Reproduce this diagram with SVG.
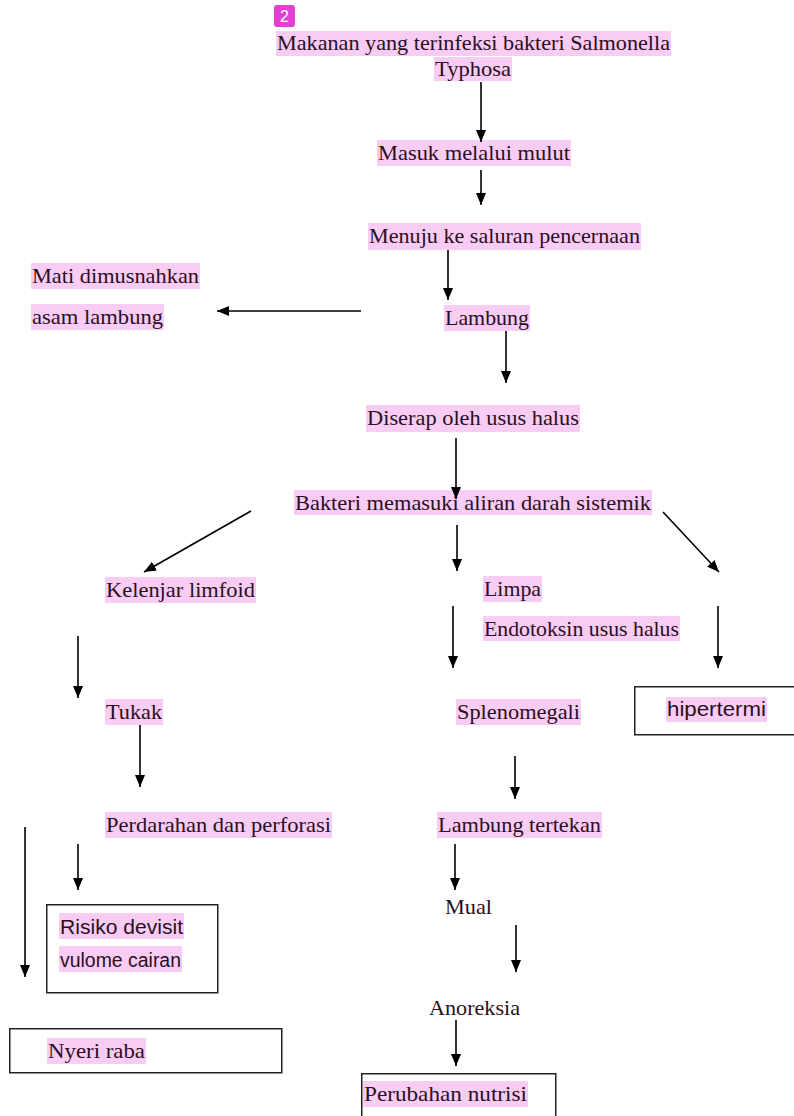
<svg xmlns="http://www.w3.org/2000/svg" width="794" height="1116" viewBox="0 0 794 1116">
<style>
.hl{fill:#f9ccf3}
.t{font-family:'Liberation Serif','DejaVu Serif',serif;font-size:21px;fill:#2a0f24}
.s{font-family:'Liberation Sans','DejaVu Sans',sans-serif;font-size:20px;fill:#2a0f24}
.box{fill:none;stroke:#222;stroke-width:1.5}
.c{stroke:#000;stroke-width:1.6;fill:none;marker-end:url(#ah)}
</style>
<defs>
<marker id="ah" viewBox="0 0 12 10" refX="12" refY="5" markerWidth="12" markerHeight="10" markerUnits="userSpaceOnUse" orient="auto">
<path d="M0,0 L12,5 L0,10 z" fill="#000"/>
</marker>
</defs>
<rect width="794" height="1116" fill="#fff"/>
<g id="badge">
<rect x="274" y="5" width="21" height="22" rx="3" fill="#e43fd2"/>
<text x="284.5" y="22" text-anchor="middle" font-family="Liberation Sans,Arial,sans-serif" font-size="16" fill="#fff">2</text>
</g>
<g id="n1">
<rect class="hl" x="276" y="31" width="395" height="25"/>
<text class="t" x="277" y="50" textLength="393" lengthAdjust="spacingAndGlyphs">Makanan yang terinfeksi bakteri Salmonella</text>
<rect class="hl" x="434" y="57" width="78" height="24"/>
<text class="t" x="435" y="76" textLength="76" lengthAdjust="spacingAndGlyphs">Typhosa</text>
</g>
<g id="n2">
<rect class="hl" x="377" y="140" width="194" height="26"/>
<text class="t" x="378" y="160" textLength="192" lengthAdjust="spacingAndGlyphs">Masuk melalui mulut</text>
</g>
<g id="n3">
<rect class="hl" x="368" y="223" width="273" height="27"/>
<text class="t" x="369" y="243" textLength="271" lengthAdjust="spacingAndGlyphs">Menuju ke saluran pencernaan</text>
</g>
<g id="n4">
<rect class="hl" x="444" y="305" width="86" height="26"/>
<text class="t" x="445" y="325" textLength="84" lengthAdjust="spacingAndGlyphs">Lambung</text>
</g>
<g id="n5">
<rect class="hl" x="31" y="263" width="169" height="26"/>
<text class="t" x="32" y="283" textLength="167" lengthAdjust="spacingAndGlyphs">Mati dimusnahkan</text>
<rect class="hl" x="31" y="304" width="133" height="26"/>
<text class="t" x="32" y="324" textLength="131" lengthAdjust="spacingAndGlyphs">asam lambung</text>
</g>
<g id="n6">
<rect class="hl" x="366" y="405" width="214" height="27"/>
<text class="t" x="367" y="425" textLength="212" lengthAdjust="spacingAndGlyphs">Diserap oleh usus halus</text>
</g>
<g id="n7">
<rect class="hl" x="294" y="490" width="358" height="25"/>
<text class="t" x="295" y="510" textLength="356" lengthAdjust="spacingAndGlyphs">Bakteri memasuki aliran darah sistemik</text>
</g>
<g id="n8">
<rect class="hl" x="105" y="577" width="151" height="26"/>
<text class="t" x="106" y="597" textLength="149" lengthAdjust="spacingAndGlyphs">Kelenjar limfoid</text>
</g>
<g id="n9">
<rect class="hl" x="483" y="576" width="59" height="26"/>
<text class="t" x="484" y="596" textLength="57" lengthAdjust="spacingAndGlyphs">Limpa</text>
<rect class="hl" x="483" y="616" width="197" height="25"/>
<text class="t" x="484" y="636" textLength="195" lengthAdjust="spacingAndGlyphs">Endotoksin usus halus</text>
</g>
<g id="n10">
<rect class="box" x="634.75" y="686.75" width="162" height="48"/>
<rect class="hl" x="666" y="697" width="101" height="25"/>
<text class="s" x="667" y="716" textLength="99" lengthAdjust="spacingAndGlyphs">hipertermi</text>
</g>
<g id="n11">
<rect class="hl" x="105" y="699" width="58" height="26"/>
<text class="t" x="106" y="719" textLength="56" lengthAdjust="spacingAndGlyphs">Tukak</text>
</g>
<g id="n12">
<rect class="hl" x="456" y="699" width="125" height="26"/>
<text class="t" x="457" y="719" textLength="123" lengthAdjust="spacingAndGlyphs">Splenomegali</text>
</g>
<g id="n13">
<rect class="hl" x="105" y="812" width="227" height="26"/>
<text class="t" x="106" y="832" textLength="225" lengthAdjust="spacingAndGlyphs">Perdarahan dan perforasi</text>
</g>
<g id="n14">
<rect class="hl" x="437" y="812" width="165" height="26"/>
<text class="t" x="438" y="832" textLength="163" lengthAdjust="spacingAndGlyphs">Lambung tertekan</text>
</g>
<g id="n15">
<rect class="box" x="46.75" y="904.75" width="171" height="88"/>
<rect class="hl" x="59" y="913" width="125" height="26"/>
<text class="s" x="60" y="934" textLength="123" lengthAdjust="spacingAndGlyphs">Risiko  devisit</text>
<rect class="hl" x="59" y="946" width="123" height="26"/>
<text class="s" x="60" y="967" textLength="121" lengthAdjust="spacingAndGlyphs">vulome cairan</text>
</g>
<g id="n16">
<text class="t" x="445" y="914" textLength="47" lengthAdjust="spacingAndGlyphs">Mual</text>
</g>
<g id="n17">
<text class="t" x="429" y="1015" textLength="91" lengthAdjust="spacingAndGlyphs">Anoreksia</text>
</g>
<g id="n18">
<rect class="box" x="9.75" y="1028.75" width="272" height="44"/>
<rect class="hl" x="47" y="1038" width="99" height="26"/>
<text class="t" x="48" y="1058" textLength="97" lengthAdjust="spacingAndGlyphs">Nyeri raba</text>
</g>
<g id="n19">
<rect class="box" x="361.75" y="1073.75" width="194" height="50"/>
<rect class="hl" x="363" y="1081" width="165" height="26"/>
<text class="t" x="364" y="1101" textLength="163" lengthAdjust="spacingAndGlyphs">Perubahan nutrisi</text>
</g>
<g id="connectors">
<line class="c" x1="481" y1="82" x2="481" y2="142"/>
<line class="c" x1="481" y1="170" x2="481" y2="205"/>
<line class="c" x1="448" y1="250" x2="448" y2="300"/>
<line class="c" x1="361" y1="311" x2="217" y2="311"/>
<line class="c" x1="506" y1="331" x2="506" y2="383"/>
<line class="c" x1="456" y1="438" x2="456" y2="499"/>
<line class="c" x1="251" y1="511" x2="144" y2="572"/>
<line class="c" x1="457" y1="525" x2="457" y2="571"/>
<line class="c" x1="663" y1="512" x2="719" y2="572"/>
<line class="c" x1="453" y1="606" x2="453" y2="668"/>
<line class="c" x1="718" y1="606" x2="718" y2="668"/>
<line class="c" x1="78" y1="636" x2="78" y2="698"/>
<line class="c" x1="140" y1="725" x2="140" y2="787"/>
<line class="c" x1="515" y1="756" x2="515" y2="799"/>
<line class="c" x1="25" y1="827" x2="25" y2="977"/>
<line class="c" x1="78" y1="844" x2="78" y2="890"/>
<line class="c" x1="455" y1="844" x2="455" y2="890"/>
<line class="c" x1="516" y1="925" x2="516" y2="972"/>
<line class="c" x1="456" y1="1020" x2="456" y2="1066"/>
</g>
</svg>
